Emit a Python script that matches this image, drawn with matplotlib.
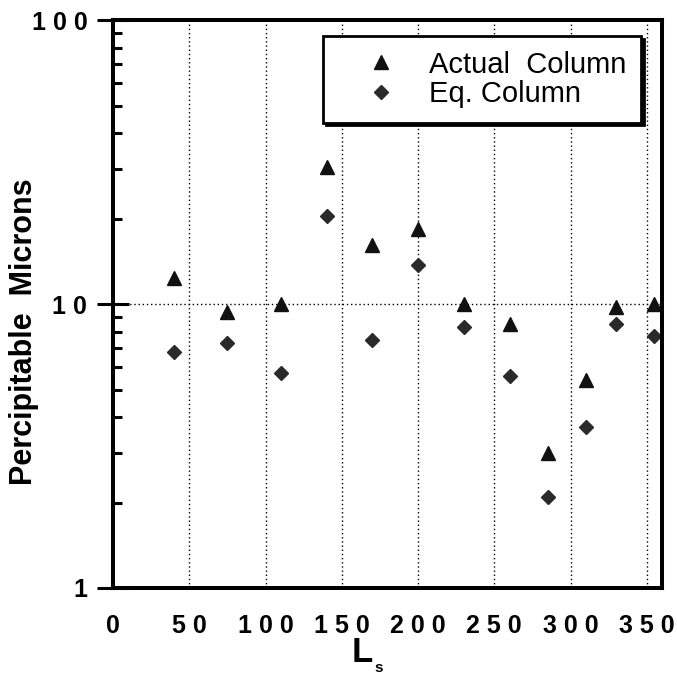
import numpy as np
import matplotlib.pyplot as plt
from matplotlib.ticker import FixedLocator, LogLocator, NullFormatter

plt.rcParams['font.family'] = ['Liberation Sans', 'DejaVu Sans']

# values
ls = [40, 75, 110, 140, 170, 200, 230, 260, 285, 310, 330, 355]
actual_col = [12.4, 9.4, 10.0, 30.4, 16.2, 18.4, 10.0, 8.5, 3.0, 5.4, 9.8, 10.0]
eq_col = [6.8, 7.3, 5.7, 20.5, 7.5, 13.7, 8.3, 5.6, 2.1, 3.7, 8.5, 7.7]
x_ticks = [0, 50, 100, 150, 200, 250, 300, 350]
y_ticks = [1, 10, 100]


def spaced(v):
    return ' '.join(str(int(v)))


fig = plt.figure(figsize=(6.77, 6.76), dpi=100)
ax = fig.add_axes([0.1669, 0.1302, 0.811, 0.840])

ax.plot(ls, actual_col, linestyle='none', marker='^', ms=10.5, color='#111111',
        label='Actual  Column')
ax.plot(ls, eq_col, linestyle='none', marker='D', ms=7.5, color='#2a2a2a',
        label='Eq. Column')

ax.set_yscale('log')
ax.set_xlim(0, 360)
ax.set_ylim(1, 100)

ax.xaxis.set_major_locator(FixedLocator(x_ticks))
ax.set_xticklabels([spaced(v) for v in x_ticks])
ax.yaxis.set_major_locator(FixedLocator(y_ticks))
ax.set_yticklabels([spaced(v) for v in y_ticks])
ax.yaxis.set_minor_locator(LogLocator(base=10, subs=np.arange(2, 10)))
ax.yaxis.set_minor_formatter(NullFormatter())

ax.tick_params(axis='x', length=0, pad=19, labelsize=18)
ax.tick_params(axis='y', which='major', direction='inout', length=23, width=2.2,
               pad=7, labelsize=18)
ax.tick_params(axis='y', which='minor', direction='in', length=6.5, width=2.2)
for lab in ax.get_xticklabels() + ax.get_yticklabels():
    lab.set_fontweight('bold')

for sp in ax.spines.values():
    sp.set_linewidth(2.9)

ax.grid(True, which='major', color='black', linestyle=(0, (1, 2)), linewidth=1)

leg = ax.legend(loc='upper right', bbox_to_anchor=(0.962, 0.972), borderaxespad=0,
                numpoints=1, fontsize=21, frameon=True, fancybox=False,
                shadow={'color': 'black', 'alpha': 1}, handlelength=3.0,
                handletextpad=0.15, borderpad=0.5, labelspacing=0.05)
leg.get_frame().set_edgecolor('black')
leg.get_frame().set_linewidth(2)

fig.text(0.035, 0.51, 'Percipitable  Microns', rotation=90, fontsize=22,
         fontweight='bold', ha='center', va='center')
fig.text(0.535, 0.035, 'L', fontsize=25, fontweight='bold', ha='center', va='center')
fig.text(0.5525, 0.002, 's', fontsize=11, fontweight='bold', ha='left', va='bottom')

fig.savefig('out.png', dpi=100)
